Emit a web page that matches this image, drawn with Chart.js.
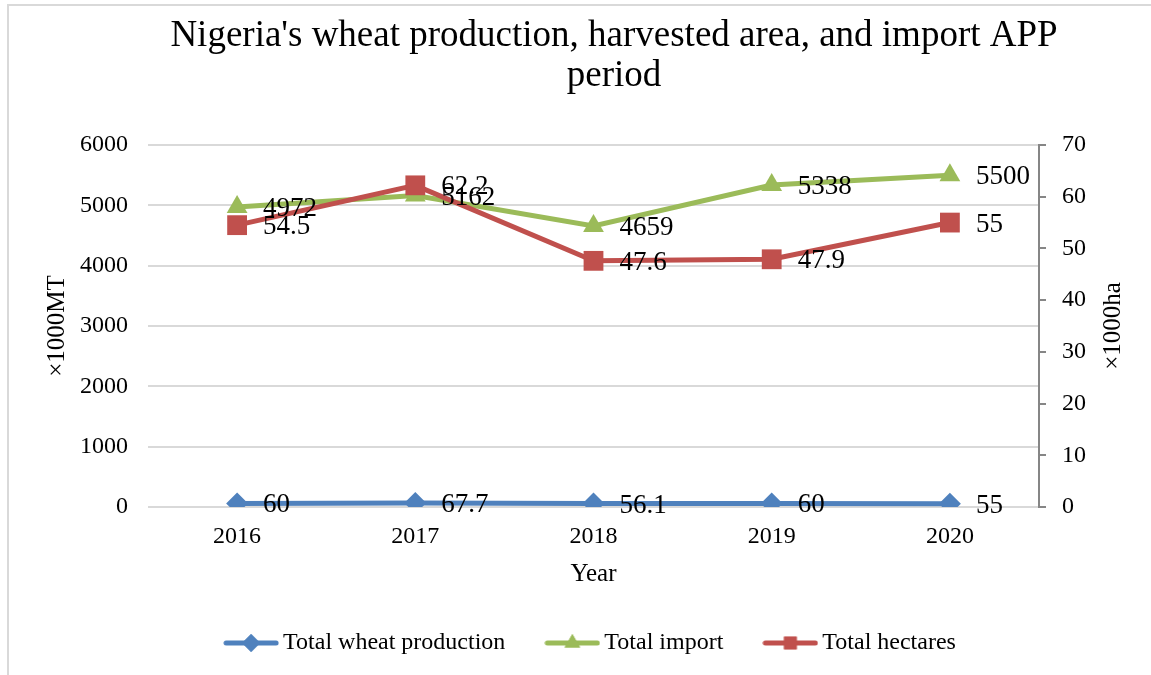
<!DOCTYPE html>
<html>
<head>
<meta charset="utf-8">
<script src="https://cdn.jsdelivr.net/npm/chart.js@4.4.1/dist/chart.umd.min.js"></script>
<style>
  html, body { margin: 0; padding: 0; background: #fff; }
  #wrap { width: 1151px; height: 675px; position: relative; }
</style>
</head>
<body>
<div id="wrap"><canvas id="myLineChart" width="1151" height="675"></canvas></div>
<script>
// chart data
const years = ["2016", "2017", "2018", "2019", "2020"];
const wheatProduction = [60, 67.7, 56.1, 60, 55];
const totalImport = [4972, 5162, 4659, 5338, 5500];
const totalHectares = [54.5, 62.2, 47.6, 47.9, 55];

const titleLines = ["Nigeria's wheat production, harvested area, and import APP", "period"];
const seriesNames = ["Total wheat production", "Total import", "Total hectares"];

const blue = "#4F81BD";
const green = "#9BBB59";
const red = "#C0504D";
const serif = "'Liberation Serif', 'Times New Roman', serif";

// legend swatch: short line with the marker on it
function makeSwatch(color, style) {
  const c = document.createElement("canvas");
  c.width = 56;
  c.height = 24;
  const ctx = c.getContext("2d");
  ctx.strokeStyle = color;
  ctx.lineWidth = 5;
  ctx.lineCap = "round";
  ctx.beginPath();
  ctx.moveTo(3, 12);
  ctx.lineTo(53, 12);
  ctx.stroke();
  ctx.fillStyle = color;
  Chart.helpers.drawPoint(ctx, { pointStyle: style, radius: 9, borderWidth: 0 }, 28, 12);
  ctx.fill();
  return c;
}

// frame, title and right axis title
const decorations = {
  id: "decorations",
  beforeDraw(chart) {
    const ctx = chart.ctx;
    ctx.save();
    ctx.strokeStyle = "#d9d9d9";
    ctx.lineWidth = 2;
    ctx.beginPath();
    ctx.moveTo(8, 680);
    ctx.lineTo(8, 5);
    ctx.lineTo(1160, 5);
    ctx.stroke();
    ctx.restore();
  },
  afterDraw(chart) {
    const ctx = chart.ctx;
    ctx.save();
    ctx.fillStyle = "#000";
    ctx.textAlign = "center";
    ctx.textBaseline = "middle";
    ctx.font = "37px " + serif;
    ctx.fillText(titleLines[0], 614, 36);
    ctx.fillText(titleLines[1], 614, 76);

    const area = chart.chartArea;
    ctx.font = "25px " + serif;
    ctx.translate(1113, (area.top + area.bottom) / 2);
    ctx.rotate(-Math.PI / 2);
    ctx.fillText("\u00d71000ha", 0, 0);
    ctx.restore();
  },
};

// value labels to the right of each point
const valueLabels = {
  id: "valueLabels",
  afterDatasetsDraw(chart) {
    const ctx = chart.ctx;
    ctx.save();
    ctx.fillStyle = "#000";
    ctx.font = "27px " + serif;
    ctx.textAlign = "left";
    ctx.textBaseline = "middle";
    chart.data.datasets.forEach((ds, i) => {
      const meta = chart.getDatasetMeta(i);
      meta.data.forEach((pt, j) => {
        ctx.fillText(String(ds.data[j]), pt.x + 26, pt.y + 2);
      });
    });
    ctx.restore();
  },
};

const swatches = [makeSwatch(blue, "rectRot"), makeSwatch(green, "triangle"), makeSwatch(red, "rect")];
const tickFont = { family: serif, size: 24 };

new Chart(document.getElementById("myLineChart").getContext("2d"), {
  type: "line",
  data: {
    labels: years,
    datasets: [
      {
        label: seriesNames[0],
        data: wheatProduction,
        yAxisID: "y",
        borderColor: blue,
        backgroundColor: blue,
        pointStyle: "rectRot",
        pointRadius: 11,
        order: 0,
      },
      {
        label: seriesNames[1],
        data: totalImport,
        yAxisID: "y",
        borderColor: green,
        backgroundColor: green,
        pointStyle: "triangle",
        pointRadius: 12,
        order: 2,
      },
      {
        label: seriesNames[2],
        data: totalHectares,
        yAxisID: "y1",
        borderColor: red,
        backgroundColor: red,
        pointStyle: "rect",
        pointRadius: 14,
        order: 1,
      },
    ],
  },
  options: {
    responsive: false,
    animation: false,
    devicePixelRatio: 1,
    layout: { padding: { top: 145, left: 0, right: 0, bottom: 10 } },
    elements: {
      line: { borderWidth: 5, tension: 0 },
      point: { borderWidth: 0, hoverRadius: 12 },
    },
    plugins: {
      title: { display: false },
      tooltip: { enabled: false },
      legend: {
        position: "bottom",
        fullSize: false,
        labels: {
          color: "#000",
          font: { family: serif, size: 24 },
          usePointStyle: true,
          pointStyleWidth: 40,
          boxHeight: 24,
          padding: 47,
          generateLabels: (chart) =>
            chart.data.datasets.map((ds, i) => ({
              text: ds.label,
              pointStyle: swatches[i],
              fillStyle: ds.borderColor,
              strokeStyle: ds.borderColor,
              lineWidth: 0,
              hidden: false,
              datasetIndex: i,
              fontColor: "#000",
            })),
        },
      },
    },
    scales: {
      x: {
        offset: true,
        grid: { display: false, drawTicks: false },
        border: { display: false },
        ticks: { color: "#000", font: tickFont, padding: 15 },
        title: {
          display: true,
          text: "Year",
          color: "#000",
          font: { family: serif, size: 25 },
          padding: { top: 0, bottom: -5 },
        },
        afterFit: (scale) => {
          scale.height = 77;
        },
      },
      y: {
        position: "left",
        min: 0,
        max: 6000,
        ticks: {
          stepSize: 1000,
          color: "#000",
          font: tickFont,
          padding: 20,
          callback: (v) => String(v),
        },
        grid: { color: "#d9d9d9", lineWidth: 2, drawTicks: false },
        border: { display: false },
        title: {
          display: true,
          text: "\u00d71000MT",
          color: "#000",
          font: { family: serif, size: 25 },
          padding: { top: 42, bottom: 0 },
        },
        afterFit: (scale) => {
          scale.width = 148;
        },
      },
      y1: {
        position: "right",
        min: 0,
        max: 70,
        ticks: {
          stepSize: 10,
          color: "#000",
          font: tickFont,
          padding: 16,
          callback: (v) => String(v),
        },
        grid: { drawOnChartArea: false, color: "#868686", lineWidth: 2, tickLength: 7 },
        border: { display: true, color: "#868686", width: 2 },
        afterFit: (scale) => {
          scale.width = 112;
        },
      },
    },
  },
  plugins: [decorations, valueLabels],
});
</script>
</body>
</html>
